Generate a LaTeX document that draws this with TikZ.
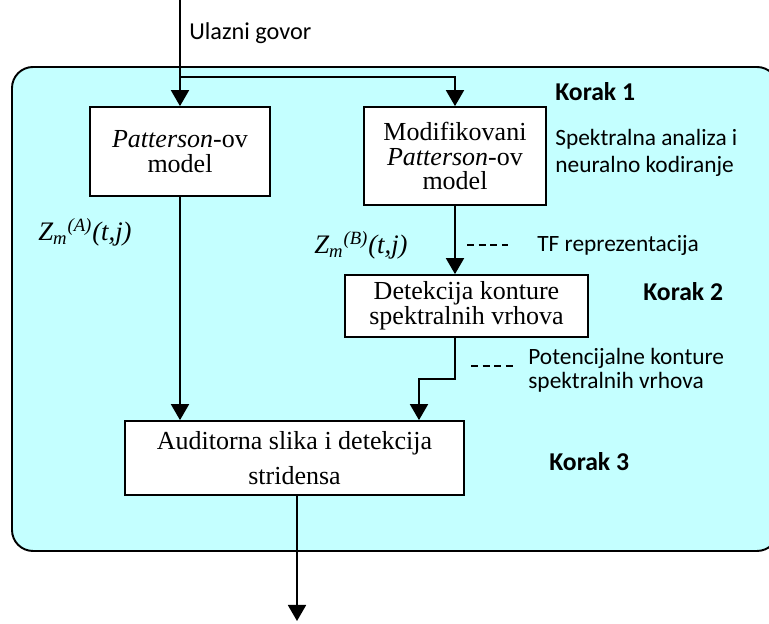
\documentclass[tikz,border=0pt]{standalone}
\usepackage{fontspec}
\setmainfont{Liberation Serif}
\newfontfamily\calib{Carlito}
\usepackage{tikz}
\usetikzlibrary{calc,positioning,arrows.meta}

\definecolor{svijetloplava}{RGB}{196,255,255}
\tikzset{
  blok/.style={draw,line width=1pt,fill=white,inner sep=0pt,align=center,
    font=\fontsize{14.8}{14}\selectfont},
  opis/.style={anchor=west,inner sep=0pt,align=left,
    font=\calib\fontsize{13.3}{14.5}\selectfont},
  korak/.style={anchor=west,inner sep=0pt,font=\calib\bfseries\fontsize{14.6}{16}\selectfont},
  zlab/.style={anchor=west,inner sep=0pt,font=\itshape\fontsize{15.2}{16}\selectfont},
  strel/.style={line width=1.1pt,-{Triangle[width=0.36cm,length=0.32cm]}},
  crt/.style={line width=1pt,dash pattern=on 4pt off 2.6pt}
}

\begin{document}
\begin{tikzpicture}[x=0.02cm,y=-0.02cm]
	\useasboundingbox (0,0) rectangle (769,624);
	\draw[line width=1.1pt,fill=svijetloplava,rounded corners=0.42cm] (12,67) rectangle (778,551);

	\node[blok,minimum width=3.6cm,minimum height=1.78cm] (patt) at (180,151.5) {\textit{Patterson}-ov\\model};
	\node[blok,minimum width=3.64cm,minimum height=1.96cm] (modpatt) at (455,156) {Modifikovani\\\textit{Patterson}-ov\\model};
	\node[blok,minimum width=4.86cm,minimum height=1.24cm] (detek) at (466.5,306) {Detekcija konture\\spektralnih vrhova};
	\node[blok,minimum width=6.78cm,minimum height=1.48cm,font=\fontsize{14.8}{20}\selectfont] (audit) at (294.5,458) {Auditorna slika i detekcija\\stridensa};

	\coordinate (ulaz) at (180,0);
	\coordinate (grana) at (180,77);
	\coordinate (lom) at (419,379);
	\coordinate (izlaz) at (297,621);

	\draw[strel] (ulaz) -- (ulaz |- patt.north);
	\draw[strel] (grana) -| (modpatt.north);
	\draw[strel] (modpatt.south) -- (modpatt.south |- detek.north);
	\draw[strel] (detek.south -| modpatt.south) |- (lom) -- (lom |- audit.north);
	\draw[strel] (patt.south) -- (patt.south |- audit.north);
	\draw[strel] (audit.south -| izlaz) -- (izlaz);

	\node[opis,font=\calib\fontsize{13.8}{15}\selectfont] (ulaztxt) at (189,33) {Ulazni govor};
	\node[korak] (k1) at (555,92) {Korak 1};
	\node[opis,font=\calib\fontsize{13.3}{15.3}\selectfont] (spek) at (555,153) {Spektralna analiza i\\neuralno kodiranje};
	\node[zlab] (za) at (38,232) {Z\textsubscript{m}\textsuperscript{(A)}(t,j)};
	\node[zlab] (zb) at (314,245) {Z\textsubscript{m}\textsuperscript{(B)}(t,j)};
	\node[opis] (tf) at (537,245) {TF reprezentacija};
	\node[korak] (k2) at (643,292) {Korak 2};
	\node[opis,font=\calib\fontsize{13.3}{13.8}\selectfont] (pot) at (528,370) {Potencijalne konture\\spektralnih vrhova};
	\node[korak] (k3) at (549,462) {Korak 3};

	% isprekidane oznake
	\draw[crt] (467,245) -- (508,245);
	\draw[crt] (471,366) -- (515,366);
\end{tikzpicture}
\end{document}
